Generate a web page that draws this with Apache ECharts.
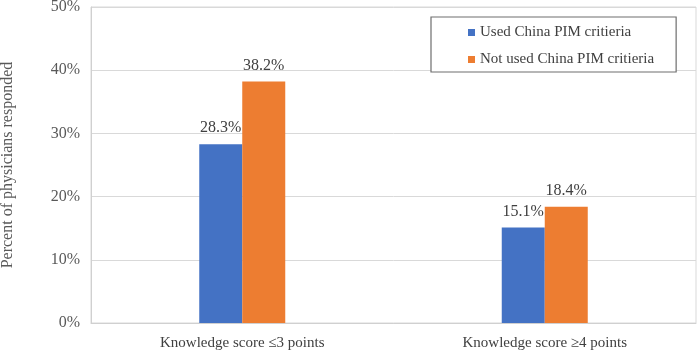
<!DOCTYPE html>
<html>
<head>
<meta charset="utf-8">
<script src="https://cdn.jsdelivr.net/npm/echarts@6/dist/echarts.min.js"></script>
<style>html,body{margin:0;padding:0;background:#fff}#c{width:699px;height:353px}</style>
</head>
<body>
<div id="c"></div>
<script>
const categories = ['Knowledge score \u22643 points', 'Knowledge score \u22654 points'];
const usedValues = [28.3, 15.1];
const notUsedValues = [38.2, 18.4];
const seriesNames = ['Used China PIM critieria', 'Not used China PIM critieria'];
const yTicks = [0, 10, 20, 30, 40, 50];

const FONT = '"Liberation Serif", "Times New Roman", serif';
const chart = echarts.init(document.getElementById('c'));
const labelCfg = {
  show: true, position: 'top', distance: 8,
  fontFamily: FONT, fontSize: 16, color: '#404040',
  formatter: p => p.value.toFixed(1) + '%'
};
chart.setOption({
  animation: false,
  backgroundColor: '#fff',
  grid: { left: 91, right: 3, top: 7, bottom: 30, show: true, borderColor: '#d9d9d9', borderWidth: 1,
          containLabel: false, outerBoundsMode: 'none' },
  legend: {
    orient: 'vertical', left: 431, top: 17,
    padding: [8, 22, 5, 37],
    borderColor: '#6e6e6e', borderWidth: 1.2, backgroundColor: '#fff',
    itemWidth: 7, itemHeight: 7, itemGap: 12,
    icon: 'rect',
    textStyle: { fontFamily: FONT, fontSize: 15, color: '#404040', lineHeight: 15 },
    data: seriesNames
  },
  xAxis: {
    type: 'category', data: categories,
    axisLine: { lineStyle: { color: '#d0d0d0' } },
    axisTick: { show: false },
    axisLabel: { fontFamily: FONT, fontSize: 15, color: '#404040', margin: 13 }
  },
  yAxis: {
    type: 'value', min: yTicks[0], max: yTicks[yTicks.length - 1], interval: 10,
    name: 'Percent of physicians responded', nameLocation: 'middle', nameGap: 75,
    nameTextStyle: { fontFamily: FONT, fontSize: 16, color: '#595959' },
    axisLine: { show: true, lineStyle: { color: '#d0d0d0' } },
    axisTick: { show: false },
    splitLine: { lineStyle: { color: '#d9d9d9' } },
    axisLabel: { fontFamily: FONT, fontSize: 16, color: '#595959', margin: 11, formatter: v => v + '%' }
  },
  series: [
    { name: seriesNames[0], type: 'bar', data: usedValues, barWidth: 43, barGap: '0%',
      itemStyle: { color: '#4472C4' }, label: labelCfg },
    { name: seriesNames[1], type: 'bar', data: notUsedValues, barWidth: 43, barGap: '0%',
      itemStyle: { color: '#ED7D31' }, label: labelCfg }
  ]
});
</script>
</body>
</html>
